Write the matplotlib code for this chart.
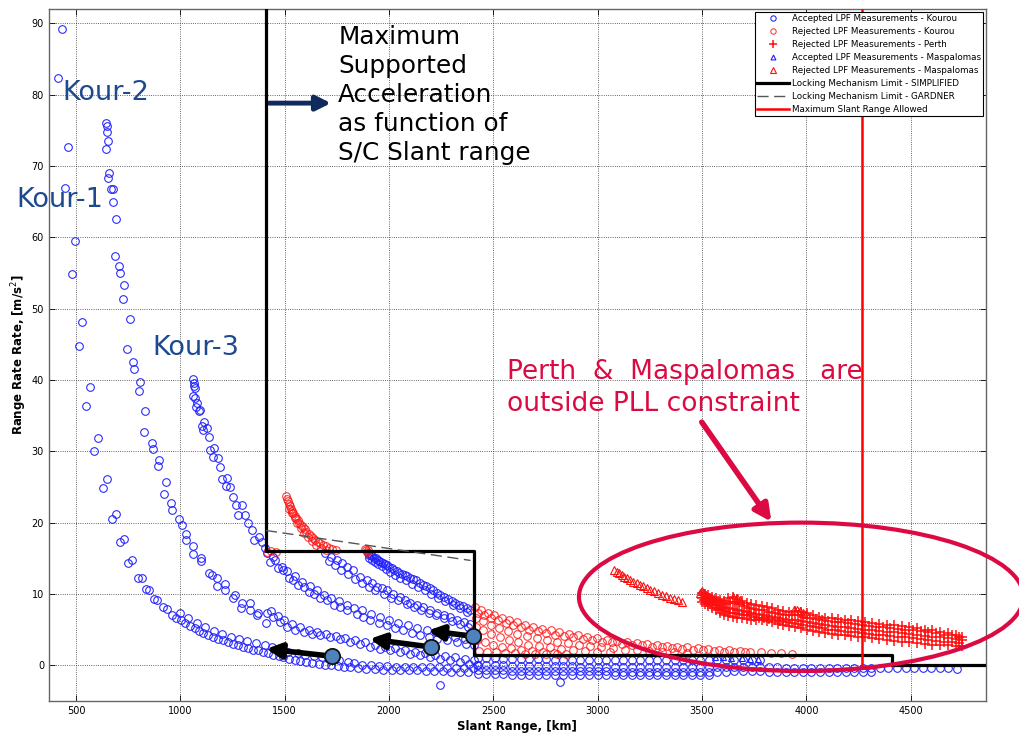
import matplotlib
matplotlib.use('Agg')
import matplotlib.pyplot as plt
from matplotlib.patches import Ellipse

# ---------------- data ----------------
# accepted Kourou passes (blue circles)
k1_x = [414, 433, 447, 462, 481, 495, 514, 529, 548, 567, 586, 605, 629, 648, 672, 691, 711, 730, 749, 768,
        797, 816, 835, 850, 872, 888, 915, 936, 958, 979, 1003, 1022, 1046, 1070, 1088, 1109, 1133, 1157, 1178, 1205,
        1226, 1253, 1275, 1300, 1322, 1347, 1370, 1397, 1420, 1446, 1472, 1493, 1520, 1548, 1575, 1604, 1630, 1662, 1692, 1722,
        1755, 1785, 1813]
k1_y = [82.3, 89.2, 66.9, 72.7, 54.8, 59.5, 44.7, 48.1, 36.3, 39.0, 30.0, 31.8, 24.8, 26.1, 20.5, 21.2, 17.3, 17.7, 14.4, 14.7,
        12.2, 12.2, 10.7, 10.5, 9.3, 9.1, 8.2, 7.9, 7.1, 6.7, 6.3, 5.9, 5.5, 5.2, 4.8, 4.5, 4.3, 4.0, 3.7, 3.5,
        3.2, 3.0, 2.8, 2.6, 2.4, 2.2, 2.1, 1.9, 1.7, 1.5, 1.3, 1.1, 0.9, 0.8, 0.6, 0.4, 0.3, 0.2, 0.1, 0.0,
        -0.1, -0.2, -0.3]
k1b_x = [996, 1035, 1078, 1118, 1163, 1198, 1241, 1283, 1318, 1362, 1404, 1437, 1482, 1518, 1563, 1597, 1641, 1679, 1724, 1758, 1802]
k1b_y = [7.4, 6.6, 5.9, 5.3, 4.8, 4.4, 4.0, 3.7, 3.4, 3.1, 2.8, 2.5, 2.2, 1.9, 1.7, 1.5, 1.3, 1.1, 0.9, 0.7, 0.5]

k2_x = [644, 646, 648, 653, 644, 658, 653, 668, 677, 677, 691, 687, 706, 711, 730, 725, 759, 744, 773, 778,
        807, 802, 831, 826, 864, 869, 898, 893, 931, 922, 956, 961, 994, 1008, 1027, 1027, 1061, 1061, 1099, 1099,
        1138, 1150, 1176, 1176, 1214, 1214, 1253, 1262, 1296, 1291, 1334, 1334, 1373, 1368, 1416, 1411]
k2_y = [76.0, 75.6, 74.7, 73.5, 72.4, 69.0, 68.3, 66.8, 66.8, 65.0, 62.6, 57.4, 56.0, 55.0, 53.3, 51.4, 48.5, 44.3, 42.5, 41.6,
        39.7, 38.4, 35.6, 32.7, 31.1, 30.3, 28.8, 28.0, 25.7, 24.0, 22.7, 21.7, 20.5, 19.6, 18.4, 17.5, 16.7, 15.6, 15.1, 14.6,
        13.0, 12.6, 12.3, 11.1, 11.4, 10.5, 9.5, 9.9, 8.7, 8.1, 8.7, 7.7, 7.4, 7.0, 7.3, 5.9]
k2a_x = [1446, 1478, 1510, 1550, 1590, 1630, 1670, 1718, 1766, 1813, 1861, 1909, 1957, 2005, 2053, 2101, 2149, 2197, 2245, 2293,
         2341, 2381, 2421]
k2a_y = [6.8, 6.0, 5.4, 5.0, 4.7, 4.4, 4.2, 3.9, 3.7, 3.3, 3.0, 2.6, 2.3, 2.1, 1.9, 1.6, 1.4, 1.1, 0.9, 0.7, 0.5, 0.2, 0.0]
k2b_x = [1432, 1466, 1498, 1534, 1574, 1614, 1654, 1700, 1745, 1790, 1838, 1886, 1934, 1982, 2030, 2078, 2126, 2174, 2222, 2270,
         2318, 2366, 2405]
k2b_y = [7.6, 6.9, 6.3, 5.8, 5.4, 5.0, 4.7, 4.4, 4.1, 3.8, 3.5, 3.2, 2.9, 2.6, 2.4, 2.1, 1.9, 1.7, 1.5, 1.3, 1.1, 0.9, 0.8]

k3_x = [1061, 1063, 1066, 1068, 1061, 1070, 1080, 1075, 1090, 1094, 1104, 1109, 1114, 1128, 1138, 1142, 1157, 1161, 1181, 1190,
        1200, 1219, 1224, 1238, 1253, 1267, 1277, 1296, 1310, 1325, 1344, 1353, 1375, 1392, 1406]
k3_y = [40.1, 39.6, 39.2, 38.8, 37.7, 37.5, 36.7, 36.2, 35.6, 35.8, 33.5, 33.0, 34.1, 33.2, 32.0, 30.2, 29.2, 30.4, 29.0, 27.8,
        26.1, 25.1, 26.2, 25.0, 23.6, 22.4, 21.0, 22.4, 21.0, 19.9, 18.9, 17.5, 18.0, 17.3, 16.4]
k3b_x = [1430, 1446, 1470, 1494, 1520, 1542, 1565, 1590, 1615, 1638, 1670, 1702, 1735, 1766, 1800, 1845, 1875, 1909, 1950, 1989,
         2030, 2069, 2110, 2149, 2190, 2229, 2280, 2325, 2370, 2405]
k3b_y = [14.5, 15.2, 13.6, 13.3, 12.2, 11.9, 11.3, 11.0, 10.3, 10.0, 9.4, 9.1, 8.5, 8.2, 7.7, 7.2, 6.8, 6.3, 5.9, 5.6,
         5.2, 4.9, 4.5, 4.2, 3.9, 3.7, 3.5, 3.3, 3.0, 2.8]
k3c_x = [1415, 1452, 1486, 1512, 1550, 1582, 1622, 1654, 1690, 1722, 1760, 1797, 1830, 1870, 1912, 1955, 2000, 2045, 2090, 2135,
         2180, 2225, 2270, 2318, 2365]
k3c_y = [15.8, 14.7, 13.8, 13.2, 12.5, 11.7, 11.1, 10.5, 9.9, 9.5, 9.0, 8.5, 8.1, 7.7, 7.2, 6.8, 6.4, 5.9, 5.6, 5.2,
         4.9, 4.6, 4.3, 4.0, 3.7]

k4_x = [1694, 1722, 1750, 1775, 1797, 1829, 1861, 1893, 1917, 1941, 1965, 1989, 2021, 2053, 2077, 2101, 2133, 2165, 2197, 2229,
        2261, 2293, 2325, 2357, 2389]
k4_y = [15.7, 15.2, 14.7, 14.3, 13.8, 13.3, 12.4, 11.9, 11.5, 11.0, 10.8, 10.5, 10.0, 9.6, 9.2, 8.7, 8.5, 8.2, 7.8, 7.3,
        7.1, 6.8, 6.4, 6.0, 5.8]
k4b_x = [1710, 1740, 1768, 1805, 1838, 1870, 1905, 1935, 1975, 2010, 2045, 2085, 2120, 2155, 2190, 2225, 2262, 2300, 2340, 2380]
k4b_y = [14.6, 14.0, 13.4, 12.8, 12.1, 11.6, 11.0, 10.6, 10.0, 9.5, 9.1, 8.6, 8.2, 7.8, 7.4, 7.0, 6.6, 6.2, 5.8, 5.4]

k5_x = [1898, 1905, 1912, 1920, 1928, 1936, 1945, 1953, 1962, 1970, 1980, 1990, 2000, 2012, 2024, 2036, 2048, 2060, 2074, 2088,
        2102, 2116, 2130, 2146, 2162, 2178, 2194, 2210, 2228, 2246, 2264, 2282, 2300, 2318, 2336, 2354, 2372, 2390]
k5_y = [15.7, 15.5, 15.4, 15.3, 15.1, 15.0, 14.8, 14.6, 14.5, 14.3, 14.2, 14.0, 13.8, 13.6, 13.4, 13.2, 13.0, 12.8, 12.6, 12.5,
        12.3, 12.1, 11.9, 11.6, 11.3, 11.1, 10.8, 10.5, 10.2, 9.9, 9.6, 9.3, 9.0, 8.8, 8.5, 8.3, 8.0, 7.8]
k5b_x = [1902, 1916, 1932, 1948, 1966, 1985, 2006, 2030, 2054, 2080, 2108, 2138, 2170, 2202, 2236, 2270, 2305, 2340, 2375]
k5b_y = [15.0, 14.8, 14.5, 14.2, 13.9, 13.5, 13.1, 12.7, 12.3, 11.9, 11.4, 11.0, 10.5, 10.0, 9.5, 9.0, 8.5, 8.0, 7.5]

tail_x = [1850, 1890, 1932, 1972, 2012, 2053, 2094, 2135, 2176, 2216, 2257, 2298, 2339, 2380]
tail_y = [-0.4, -0.5, -0.5, -0.6, -0.6, -0.7, -0.7, -0.7, -0.8, -0.8, -0.8, -0.9, -0.9, -0.9]
tail2_x = [1830, 1870, 1912, 1952, 1992, 2033, 2074, 2115, 2156, 2196, 2237, 2278, 2319, 2360, 2400]
tail2_y = [0.3, 0.1, 0.0, -0.1, -0.1, -0.2, -0.2, -0.3, -0.3, -0.3, -0.3, -0.4, -0.4, -0.4, -0.4]

far_x = [2425, 2466, 2507, 2548, 2589, 2630, 2671, 2712, 2753, 2794, 2835, 2876, 2917, 2958, 2999, 3040, 3081, 3122, 3163, 3204,
         3245, 3286, 3327, 3368, 3409, 3450, 3491, 3532, 3573, 3614, 3655, 3696, 3737, 3778, 3819, 3860, 3901, 3942, 3983, 4024,
         4065, 4106, 4147, 4188, 4229, 4270, 4311, 4352, 4393, 4434, 4475, 4516, 4557, 4598, 4639, 4680, 4721]
row_u_y = [1.0, 1.0, 1.0, 0.9, 0.9, 0.9, 0.9, 0.9, 0.9, 0.8, 0.8, 0.8, 0.8, 0.8, 0.8, 0.8, 0.8, 0.8, 0.7, 0.7,
           0.7, 0.7, 0.7, 0.7, 0.7, 0.7, 0.7, 0.7, 0.7, 0.7, 0.7, 0.7, 0.7, 0.7]
row_m_y = [0.0, 0.0, 0.0, 0.0, -0.1, -0.1, -0.1, -0.1, -0.1, -0.1, -0.1, -0.1, -0.2, -0.2, -0.2, -0.2, -0.2, -0.2, -0.2, -0.2,
           -0.2, -0.2, -0.2, -0.3, -0.3, -0.3, -0.3, -0.3, -0.3, -0.3, -0.3, -0.3, -0.3, -0.3, -0.3, -0.3, -0.4, -0.4, -0.4, -0.4,
           -0.4, -0.4, -0.4, -0.4, -0.4, -0.4, -0.4, -0.4, -0.4, -0.4, -0.4, -0.4, -0.4, -0.4, -0.4, -0.4, -0.5]
row_l_y = [-0.7, -0.7, -0.7, -0.7, -0.8, -0.8, -0.8, -0.8, -0.8, -0.8, -0.8, -0.8, -0.8, -0.8, -0.8, -0.8, -0.9, -0.9, -0.9, -0.9,
           -0.9, -0.9, -0.9, -0.9, -0.9, -0.9, -0.9, -0.9, -0.9, -0.9, -0.8, -0.8, -0.8, -0.8, -0.9, -0.9, -0.9, -0.9, -0.9, -0.9,
           -0.9, -0.9, -0.9, -0.9, -0.9, -0.9, -0.9]
row_ll_y = [-1.2, -1.2, -1.2, -1.2, -1.3, -1.3, -1.3, -1.3, -1.3, -1.3, -1.3, -1.3, -1.3, -1.3, -1.3, -1.3, -1.3, -1.3, -1.3, -1.3,
            -1.3, -1.3, -1.3, -1.3, -1.3, -1.3, -1.3, -1.3]
out_x = [2245, 2817]
out_y = [-2.8, -2.3]

# accepted Maspalomas (blue triangles)
mas_ok_x = [3560, 3600, 3640, 3690, 3730, 3770]
mas_ok_y = [1.1, 1.1, 1.0, 1.0, 0.9, 0.9]

# rejected Kourou (red circles)
r1_x = [1508, 1512, 1516, 1520, 1525, 1530, 1536, 1542, 1549, 1556, 1563, 1570, 1578, 1586, 1595, 1604, 1614, 1624, 1635, 1646,
        1658, 1670, 1683, 1697, 1712, 1728, 1744]
r1_y = [23.7, 23.3, 23.0, 22.6, 22.3, 21.9, 21.6, 21.3, 20.9, 20.6, 20.3, 20.0, 19.7, 19.4, 19.1, 18.7, 18.4, 18.1, 17.8, 17.5,
        17.3, 17.1, 16.9, 16.7, 16.5, 16.3, 16.1]
r1b_x = [1522, 1534, 1547, 1560, 1576, 1592, 1610, 1630, 1652, 1676, 1700]
r1b_y = [21.9, 21.3, 20.6, 20.0, 19.2, 18.6, 18.0, 17.4, 16.9, 16.5, 16.2]
rblob_x = [1414, 1436, 1456, 1884, 1890, 1894, 1898]
rblob_y = [15.9, 16.0, 15.9, 16.3, 16.1, 15.9, 16.2]
ra_x = [2410, 2440, 2472, 2505, 2540, 2576, 2614, 2652, 2692, 2732, 2774, 2816, 2860, 2904, 2950, 2996, 3042, 3090, 3138, 3186,
        3234, 3282, 3330, 3380, 3430, 3480, 3530, 3580, 3630, 3680, 3730, 3780, 3830, 3880, 3930]
ra_y = [8.2, 7.8, 7.4, 7.0, 6.6, 6.3, 6.0, 5.7, 5.4, 5.1, 4.9, 4.6, 4.4, 4.2, 4.0, 3.8, 3.6, 3.4, 3.3, 3.1,
        3.0, 2.9, 2.7, 2.6, 2.5, 2.4, 2.3, 2.2, 2.1, 2.0, 1.9, 1.8, 1.7, 1.7, 1.6]
ra2_x = [2425, 2456, 2489, 2522, 2558, 2595, 2633, 2672, 2712, 2753, 2795, 2838, 2882, 2927, 2973, 3019, 3066, 3114, 3162, 3210,
         3258, 3306, 3355, 3405, 3455, 3505, 3555, 3605, 3655, 3705]
ra2_y = [7.4, 7.1, 6.7, 6.3, 5.9, 5.6, 5.3, 5.0, 4.8, 4.5, 4.3, 4.1, 3.9, 3.7, 3.5, 3.3, 3.2, 3.0, 2.9, 2.8,
         2.6, 2.5, 2.4, 2.3, 2.2, 2.1, 2.0, 1.9, 1.9, 1.8]
rb_x = [2415, 2450, 2488, 2528, 2570, 2614, 2660, 2708, 2756, 2806, 2858, 2910, 2964, 3018, 3074, 3130, 3188, 3246, 3306, 3366, 3428]
rb_y = [6.7, 6.2, 5.7, 5.2, 4.8, 4.4, 4.1, 3.8, 3.5, 3.3, 3.1, 2.9, 2.7, 2.6, 2.4, 2.2, 2.1, 2.0, 1.9, 1.8, 1.7]
rc_x = [2418, 2452, 2490, 2530, 2574, 2620, 2668, 2718, 2770, 2824, 2880, 2938, 2998, 3060]
rc_y = [5.4, 4.9, 4.4, 3.9, 3.5, 3.2, 2.9, 2.7, 2.5, 2.3, 2.1, 2.0, 1.9, 1.8]
rd_x = [2420, 2458, 2498, 2540, 2586, 2634, 2684, 2736, 2790, 2846]
rd_y = [3.6, 3.2, 2.9, 2.6, 2.4, 2.2, 2.0, 1.9, 1.7, 1.6]
re_x = [2430, 2470, 2512, 2556, 2602, 2650, 2700, 2752, 2806]
re_y = [2.0, 1.9, 1.8, 1.7, 1.7, 1.6, 1.6, 1.6, 1.6]

# rejected Perth (red plus)
perth_x = [3500, 3515, 3530, 3548, 3566, 3585, 3605, 3625, 3646, 3668, 3690, 3713, 3736, 3760, 3785, 3810, 3836, 3862, 3889, 3916,
           3944, 3972, 4001, 4030, 4060, 4090, 4121, 4152, 4184, 4216, 4249, 4282, 4316, 4350, 4385, 4420, 4456, 4492, 4529, 4566,
           4604, 4642, 4680, 4718, 4745]
perth_top = [10.2, 10.0, 9.8, 9.6, 9.4, 9.2, 9.0, 9.4, 9.6, 9.3, 9.0, 8.8, 8.6, 8.5, 8.3, 8.2, 8.0, 7.8, 7.6, 7.5,
             7.6, 7.5, 7.3, 7.0, 6.8, 6.7, 6.6, 6.5, 6.4, 6.3, 6.2, 6.0, 5.9, 5.8, 5.7, 5.6, 5.5, 5.4, 5.2, 5.0,
             4.9, 4.7, 4.5, 4.3, 4.0]
perth_mid = [9.4, 9.2, 9.0, 8.8, 8.5, 8.3, 8.1, 8.0, 7.9, 7.8, 7.6, 7.5, 7.3, 7.2, 7.0, 6.9, 6.8, 6.6, 6.5, 6.4,
             6.3, 6.2, 6.0, 5.9, 5.8, 5.6, 5.5, 5.4, 5.3, 5.2, 5.1, 5.0, 4.9, 4.8, 4.7, 4.6, 4.5, 4.4, 4.3, 4.1,
             4.0, 3.9, 3.8, 3.7, 3.5]
perth_low = [8.9, 8.6, 8.3, 8.0, 7.7, 7.4, 7.1, 6.9, 6.8, 6.7, 6.6, 6.5, 6.4, 6.3, 6.3, 6.2, 6.0, 5.8, 5.6, 5.5,
             5.4, 5.2, 5.0, 4.8, 4.7, 4.5, 4.4, 4.3, 4.2, 4.1, 4.0, 3.9, 3.8, 3.7, 3.5, 3.4, 3.3, 3.2, 3.1, 3.0,
             2.9, 2.8, 2.8, 2.7, 2.7]
perth2_x = [3508, 3522, 3539, 3557, 3575, 3595, 3615, 3636, 3657, 3679, 3701, 3724, 3748, 3772, 3797, 3823, 3849, 3875, 3902, 3930,
            3958, 3986, 4015, 4045, 4075, 4105, 4136, 4168, 4200, 4232, 4265, 4299, 4333, 4367, 4402, 4438, 4474, 4510, 4547, 4585,
            4623, 4661, 4699, 4732]
perth2_a = [9.8, 9.6, 9.4, 9.2, 9.0, 8.8, 8.6, 8.7, 8.8, 8.6, 8.3, 8.1, 7.9, 7.8, 7.7, 7.5, 7.4, 7.2, 7.1, 7.0,
            7.0, 6.9, 6.7, 6.5, 6.3, 6.2, 6.1, 6.0, 5.9, 5.8, 5.7, 5.5, 5.4, 5.3, 5.2, 5.1, 5.0, 4.9, 4.8, 4.6,
            4.5, 4.3, 4.2, 4.0]
perth2_b = [9.1, 8.9, 8.6, 8.4, 8.1, 7.8, 7.6, 7.4, 7.3, 7.2, 7.1, 7.0, 6.8, 6.7, 6.6, 6.5, 6.4, 6.2, 6.0, 5.9,
            5.8, 5.7, 5.5, 5.3, 5.2, 5.0, 4.9, 4.8, 4.7, 4.6, 4.5, 4.4, 4.3, 4.2, 4.1, 4.0, 3.9, 3.8, 3.7, 3.5,
            3.4, 3.3, 3.2, 3.1]

# rejected Maspalomas (red triangles)
mas_x = [3078, 3090, 3102, 3115, 3128, 3142, 3156, 3171, 3186, 3202, 3218, 3235, 3252, 3270, 3288, 3307, 3326, 3346, 3366, 3386, 3403]
mas_y = [13.3, 13.1, 12.9, 12.6, 12.4, 12.2, 12.0, 11.7, 11.5, 11.3, 11.1, 10.8, 10.6, 10.4, 10.2, 9.9, 9.7, 9.5, 9.3, 9.1, 8.9]
mas2_x = [3490, 3500, 3510, 3520, 3530, 3545, 3650, 3665, 3680, 3940, 3955, 3970, 3985, 4000]
mas2_y = [10.2, 10.4, 10.1, 9.8, 9.6, 9.4, 9.6, 9.4, 9.2, 7.7, 7.8, 7.6, 7.4, 7.2]

# limits
simp_x = [1410, 1410, 2405, 2405, 4410, 4410, 4860]
simp_y = [92, 16, 16, 1.5, 1.5, 0, 0]
gard_x = [1410, 2390]
gard_y = [18.9, 14.7]
max_range = 4268

# ---------------- plot ----------------
fig = plt.figure(figsize=(10.19, 7.34), dpi=100)
ax = fig.add_axes([0.048, 0.045, 0.9195, 0.9428])

blue = '#2020ff'
red = '#ff1010'
ms = 5.5
ckw = dict(ls='none', marker='o', ms=ms, mfc='none', mew=0.75)

blue_sets = [(k1_x, k1_y), (k1b_x, k1b_y), (k2_x, k2_y), (k2a_x, k2a_y), (k2b_x, k2b_y),
             (k3_x, k3_y), (k3b_x, k3b_y), (k3c_x, k3c_y), (k4_x, k4_y), (k4b_x, k4b_y),
             (k5_x, k5_y), (k5b_x, k5b_y), (tail_x, tail_y), (tail2_x, tail2_y),
             (far_x[:len(row_u_y)], row_u_y), (far_x[:len(row_m_y)], row_m_y),
             (far_x[:len(row_l_y)], row_l_y), (far_x[:len(row_ll_y)], row_ll_y), (out_x, out_y)]
bx, by = [], []
for xs, ys in blue_sets:
    bx += xs
    by += ys
h1, = ax.plot(bx, by, color=blue, **ckw)

red_sets = [(r1_x, r1_y), (r1b_x, r1b_y), (rblob_x, rblob_y), (ra_x, ra_y), (ra2_x, ra2_y), (rb_x, rb_y),
            (rc_x, rc_y), (rd_x, rd_y), (re_x, re_y)]
rx, ry = [], []
for xs, ys in red_sets:
    rx += xs
    ry += ys
h2, = ax.plot(rx, ry, color=red, alpha=0.85, **ckw)

h3, = ax.plot(perth_x * 3 + perth2_x * 2, perth_top + perth_mid + perth_low + perth2_a + perth2_b,
              ls='none', marker='+', ms=7.5, mew=1.1, color=red)
h4, = ax.plot(mas_ok_x, mas_ok_y, ls='none', marker='^', ms=5, mfc='none', mew=0.8, color=blue)
h5, = ax.plot(mas_x + mas2_x, mas_y + mas2_y, ls='none', marker='^', ms=5.5, mfc='none',
              mew=0.8, color=red)

h6, = ax.plot(simp_x, simp_y, color='black', lw=2.3, zorder=4)
h7, = ax.plot(gard_x, gard_y, color='#555555', lw=1, ls=(0, (8, 4)), zorder=4)
h8, = ax.plot([max_range, max_range], [0, 92], color='red', lw=1.8, zorder=4)

ax.set_xlim(370, 4860)
ax.set_ylim(-5, 92)
ax.set_xticks(range(500, 4501, 500))
ax.set_yticks(range(0, 91, 10))
ax.tick_params(direction='in', top=True, right=True, labelsize=7, length=4, width=0.6)
ax.grid(True, ls=':', color='#333333', lw=0.6)
for s in ax.spines.values():
    s.set_color('#666666')
    s.set_linewidth(1.0)
ax.set_xlabel('Slant Range, [km]', fontsize=8.5, fontweight='bold', labelpad=3)
ax.set_ylabel('Range Rate Rate, [m/s$^2$]', fontsize=8.5, fontweight='bold', labelpad=2)

leg = ax.legend([h1, h2, h3, h4, h5, h6, h7, h8],
                ['Accepted LPF Measurements - Kourou', 'Rejected LPF Measurements - Kourou',
                 'Rejected LPF Measurements - Perth', 'Accepted LPF Measurements - Maspalomas',
                 'Rejected LPF Measurements - Maspalomas', 'Locking Mechanism Limit - SIMPLIFIED',
                 'Locking Mechanism Limit - GARDNER', 'Maximum Slant Range Allowed'],
                loc='upper right', fontsize=6.3, fancybox=False, framealpha=1, edgecolor='black',
                markerscale=0.7, numpoints=1, handlelength=3.6, handletextpad=0.3,
                borderpad=0.3, labelspacing=0.45, borderaxespad=0.3)
leg.get_frame().set_linewidth(0.8)
leg.set_zorder(10)

# annotations
ax.text(1756, 89.8, 'Maximum\nSupported\nAcceleration\nas function of\nS/C Slant range',
        fontsize=17.8, va='top', ha='left', color='black', linespacing=1.27)
ax.annotate('', xy=(1735, 78.8), xytext=(1411, 78.8),
            arrowprops=dict(arrowstyle='-|>', lw=3.5, color='#0f2a5c', mutation_scale=22))

kour_c = '#1d4a8f'
ax.text(433, 80.2, 'Kour-2', fontsize=19.5, color=kour_c, va='center')
ax.text(212, 65.2, 'Kour-1', fontsize=19.5, color=kour_c, va='center')
ax.text(864, 44.5, 'Kour-3', fontsize=19.5, color=kour_c, va='center')

crim = '#dc0a42'
ax.text(2566, 42.9, 'Perth  &  Maspalomas   are\noutside PLL constraint', fontsize=19,
        color=crim, va='top', ha='left', linespacing=1.28)
ax.annotate('', xy=(3840, 19.8), xytext=(3491, 34.4),
            arrowprops=dict(arrowstyle='-|>', lw=4, color=crim, mutation_scale=25), zorder=6)
ell = Ellipse((3975, 9.6), 2130, 20.8, fill=False, ec=crim, lw=3, zorder=6, clip_on=False)
ax.add_patch(ell)

# black arrows with circles
for (cx, cy), (hx, hy) in [((1726, 1.27), (1398, 2.34)), ((2200, 2.57), (1893, 3.74)),
                           ((2402, 4.07), (2173, 4.91))]:
    ax.annotate('', xy=(hx, hy), xytext=(cx, cy),
                arrowprops=dict(arrowstyle='-|>', lw=4, color='black', mutation_scale=22), zorder=7)
    ax.plot(cx, cy, marker='o', ms=11, mfc='#4f81bd', mec='#111111', mew=1.3, zorder=8)

plt.savefig('out.png', dpi=100)
